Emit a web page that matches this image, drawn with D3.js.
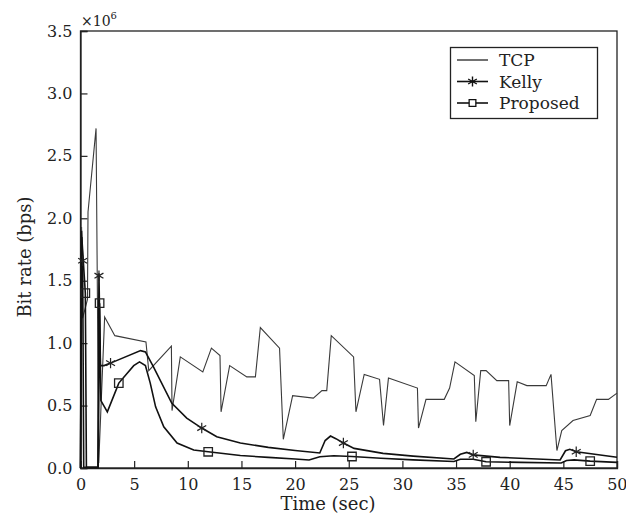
<!DOCTYPE html>
<html>
<head>
<meta charset="utf-8">
<script src="https://cdn.jsdelivr.net/npm/d3@7"></script>
<style>
html,body{margin:0;padding:0;background:#fff;}
svg text{font-family:"DejaVu Serif",serif !important;fill:#222;}
</style>
</head>
<body>
<svg id="chart" width="626" height="521"></svg>
<script>
// ---- data (time in sec, bit rate in 1e6 bps) ----
const tcpT = [0,0.1,0.2,0.65,0.7,1.45,1.7,2.25,3.2,6.1,6.36,8.47,8.53,9.3,11.4,12.2,13.0,13.1,13.9,15.5,16.3,16.76,18.55,18.9,19.77,21.7,22.5,22.95,23.37,25.45,25.67,26.44,27.87,28.24,28.7,31.4,31.5,32.2,33.9,34.4,34.9,36.7,36.84,37.3,37.8,38.8,39.9,40.0,40.7,41.6,43.4,43.85,44.4,44.85,45.9,47.5,48.1,49.2,50];
const tcpV = [0,1.93,1.2,1.35,2.05,2.72,0.04,1.21,1.06,1.01,0.78,0.976,0.46,0.89,0.77,0.96,0.90,0.45,0.82,0.73,0.73,1.125,0.96,0.23,0.58,0.56,0.62,0.62,1.06,0.89,0.45,0.75,0.71,0.34,0.72,0.64,0.32,0.55,0.55,0.64,0.85,0.74,0.37,0.78,0.78,0.70,0.70,0.34,0.69,0.66,0.66,0.75,0.14,0.30,0.38,0.42,0.55,0.55,0.60];

const kellyT = [0,0.1,0.2,0.3,1.62,1.72,1.85,2.2,2.8,5.6,6.05,6.8,8.5,9.9,11.3,12.7,14.9,17.5,20.0,22.3,22.8,23.3,23.8,24.5,25.5,28.2,31.0,34.8,35.4,36.0,36.6,39.1,44.7,45.2,45.6,46.2,50];
const kellyV = [0,1.9,1.66,0.005,0.005,1.56,0.82,0.82,0.84,0.94,0.93,0.81,0.52,0.40,0.32,0.25,0.20,0.165,0.14,0.12,0.22,0.256,0.235,0.20,0.157,0.117,0.095,0.072,0.11,0.125,0.105,0.085,0.064,0.138,0.15,0.13,0.086];

const propT = [0,0.12,0.45,0.55,1.65,1.78,1.9,2.5,3.57,4.96,5.5,6.05,6.5,7.0,7.76,9.0,10.55,11.9,14.9,17.5,20.0,21.3,22.3,23.6,25.3,28.0,31.0,34.8,35.4,36.6,37.8,41.0,44.8,45.3,46.0,47.5,50];
const propV = [0,1.85,1.40,0.005,0.005,1.32,0.54,0.45,0.68,0.82,0.85,0.82,0.68,0.49,0.33,0.20,0.144,0.13,0.10,0.085,0.072,0.064,0.09,0.098,0.092,0.078,0.065,0.052,0.07,0.07,0.05,0.045,0.04,0.06,0.065,0.055,0.045];

const kellyMarkT = [0.2,1.72,2.8,11.3,24.5,36.6,46.2];
const kellyMarkV = [1.66,1.54,0.84,0.32,0.20,0.105,0.13];
const propMarkT = [0.45,1.78,3.57,11.9,25.3,37.8,47.5];
const propMarkV = [1.40,1.32,0.68,0.13,0.092,0.05,0.055];

const xTicks = [0,5,10,15,20,25,30,35,40,45,50];
const yTicks = [0,0.5,1.0,1.5,2.0,2.5,3.0,3.5];
const legendLabels = ["TCP","Kelly","Proposed"];

// ---- layout ----
const svg = d3.select("#chart");
const L = 80.5, R = 617, T = 31, B = 468;
const x = d3.scaleLinear().domain([0,50]).range([L,R]);
const y = d3.scaleLinear().domain([0,3.5]).range([B,T]);
const ink = "#222";
const FS = "16px";

// frame
svg.append("rect").attr("x",L).attr("y",T).attr("width",R-L).attr("height",B-T)
  .attr("fill","none").attr("stroke",ink).attr("stroke-width",1.3);

// axes (inward ticks)
const xAxis = d3.axisBottom(x).tickValues(xTicks).tickSize(-7).tickPadding(11).tickFormat(d3.format("d"));
const gx = svg.append("g").attr("transform",`translate(0,${B})`).call(xAxis);
const yAxis = d3.axisLeft(y).tickValues(yTicks).tickSize(-7).tickPadding(8).tickFormat(d3.format(".1f"));
const gy = svg.append("g").attr("transform",`translate(${L},0)`).call(yAxis);
[gx,gy].forEach(g=>{
  g.attr("font-family",null).attr("font-size",null);
  g.select(".domain").attr("stroke",ink).attr("stroke-width",1.3);
  g.selectAll(".tick line").attr("stroke",ink).attr("stroke-width",1.2);
  g.selectAll(".tick text").style("font-size",FS).attr("fill",ink);
});
gx.selectAll(".tick text").filter(d=>d===50).attr("text-anchor","end").attr("dx","10");

// multiplier
const mult = svg.append("text").attr("x",81).attr("y",26).style("font-size","14px");
mult.append("tspan").text("×10");
mult.append("tspan").attr("dy",-7).style("font-size","10px").text("6");

// axis titles
svg.append("text").attr("x",328).attr("y",510).attr("text-anchor","middle").style("font-size","18px").text("Time (sec)");
svg.append("text").attr("transform","translate(31,257) rotate(-90)").attr("text-anchor","middle").style("font-size","18px").text("Bit rate (bps)");

// lines
const line = d3.line().x(d=>x(d[0])).y(d=>y(d[1]));
const zip = (a,b)=>a.map((t,i)=>[t,b[i]]);
const plot = svg.append("g");
plot.append("path").datum(zip(tcpT,tcpV)).attr("d",line).attr("fill","none").attr("stroke","#3a3a3a").attr("stroke-width",1.1);
plot.append("path").datum(zip(kellyT,kellyV)).attr("d",line).attr("fill","none").attr("stroke","#111").attr("stroke-width",1.6);
plot.append("path").datum(zip(propT,propV)).attr("d",line).attr("fill","none").attr("stroke","#111").attr("stroke-width",1.6);

const star = d3.symbol().type(d3.symbolAsterisk).size(75);
const sq = d3.symbol().type(d3.symbolSquare).size(72);
plot.selectAll(".km").data(zip(kellyMarkT,kellyMarkV)).join("path")
  .attr("transform",d=>`translate(${x(d[0])},${y(d[1])})`).attr("d",star)
  .attr("fill","none").attr("stroke","#222").attr("stroke-width",1.2);
plot.selectAll(".pm").data(zip(propMarkT,propMarkV)).join("path")
  .attr("transform",d=>`translate(${x(d[0])},${y(d[1])})`).attr("d",sq)
  .attr("fill","none").attr("stroke","#222").attr("stroke-width",1.3);

// legend
const lg = svg.append("g");
lg.append("rect").attr("x",450.5).attr("y",47.5).attr("width",147).attr("height",71)
  .attr("fill","#fff").attr("stroke",ink).attr("stroke-width",1.3);
legendLabels.forEach((lab,i)=>{
  const yy = 60 + i*21.5;
  lg.append("line").attr("x1",457).attr("x2",488).attr("y1",yy).attr("y2",yy)
    .attr("stroke","#111").attr("stroke-width",i===0?1.2:1.6);
  if(i===1) lg.append("path").attr("transform",`translate(472.5,${yy})`).attr("d",d3.symbol().type(d3.symbolAsterisk).size(70)).attr("fill","none").attr("stroke","#111").attr("stroke-width",1.4);
  if(i===2) lg.append("path").attr("transform",`translate(472.5,${yy})`).attr("d",d3.symbol().type(d3.symbolSquare).size(45)).attr("fill","#fff").attr("stroke","#111").attr("stroke-width",1.3);
  lg.append("text").attr("x",499).attr("y",yy+6).style("font-size","17px").text(lab);
});
</script>
</body>
</html>
